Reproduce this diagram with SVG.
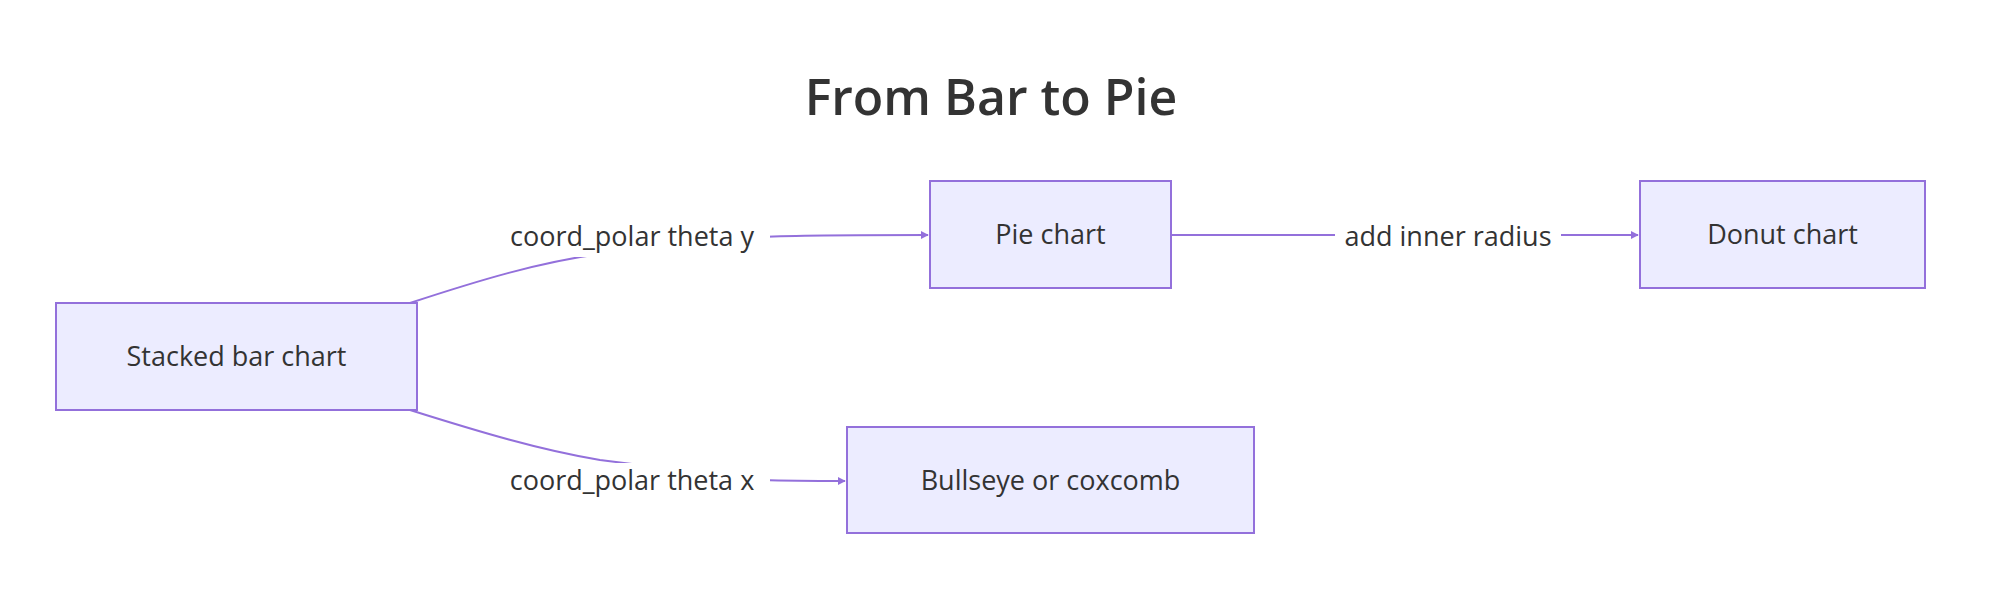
<svg xmlns="http://www.w3.org/2000/svg" width="1998" height="594" viewBox="0 0 1998 594">
<defs>
<style>
.node rect{fill:#ECECFF;stroke:#9370DB;stroke-width:2}
text{font-family:"Open Sans","Liberation Sans",sans-serif;fill:#333;text-anchor:middle}
.t{font-size:27px}
.e{fill:none;stroke:#9370DB;stroke-width:2}
.lb{fill:#fff}
</style>
<marker id="ah" viewBox="0 0 10 10" refX="9" refY="5" markerWidth="8" markerHeight="8" orient="auto" markerUnits="userSpaceOnUse"><path d="M0,0L10,5L0,10z" fill="#9370DB"/></marker>
</defs>
<rect width="1998" height="594" fill="#fff"/>
<text x="991" y="115" style="font-size:50px;font-weight:600">From Bar to Pie</text>
<g id="edges">
<path class="e" d="M410,303 C480,280 540,262 600,254 L760,237 C800,235 850,235 928,235" marker-end="url(#ah)"/>
<path class="e" d="M410,410 C480,432 540,450 600,460 L760,480 C790,481 810,481 845,481" marker-end="url(#ah)"/>
<path class="e" d="M1171,235 L1638,235" marker-end="url(#ah)"/>
<rect class="lb" x="494" y="219" width="276" height="38"/>
<text class="t" x="632" y="246">coord_polar theta y</text>
<rect class="lb" x="494" y="463" width="276" height="38"/>
<text class="t" x="632" y="490">coord_polar theta x</text>
<rect class="lb" x="1335" y="219" width="226" height="38"/>
<text class="t" x="1448" y="246">add inner radius</text>
</g>
<g id="stacked" class="node"><rect x="56" y="303" width="361" height="107"/><text class="t" x="236.5" y="366">Stacked bar chart</text></g>
<g id="pie" class="node"><rect x="930" y="181" width="241" height="107"/><text class="t" x="1050.5" y="244">Pie chart</text></g>
<g id="donut" class="node"><rect x="1640" y="181" width="285" height="107"/><text class="t" x="1782.5" y="244">Donut chart</text></g>
<g id="bullseye" class="node"><rect x="847" y="427" width="407" height="106"/><text class="t" x="1050.5" y="490">Bullseye or coxcomb</text></g>
</svg>
